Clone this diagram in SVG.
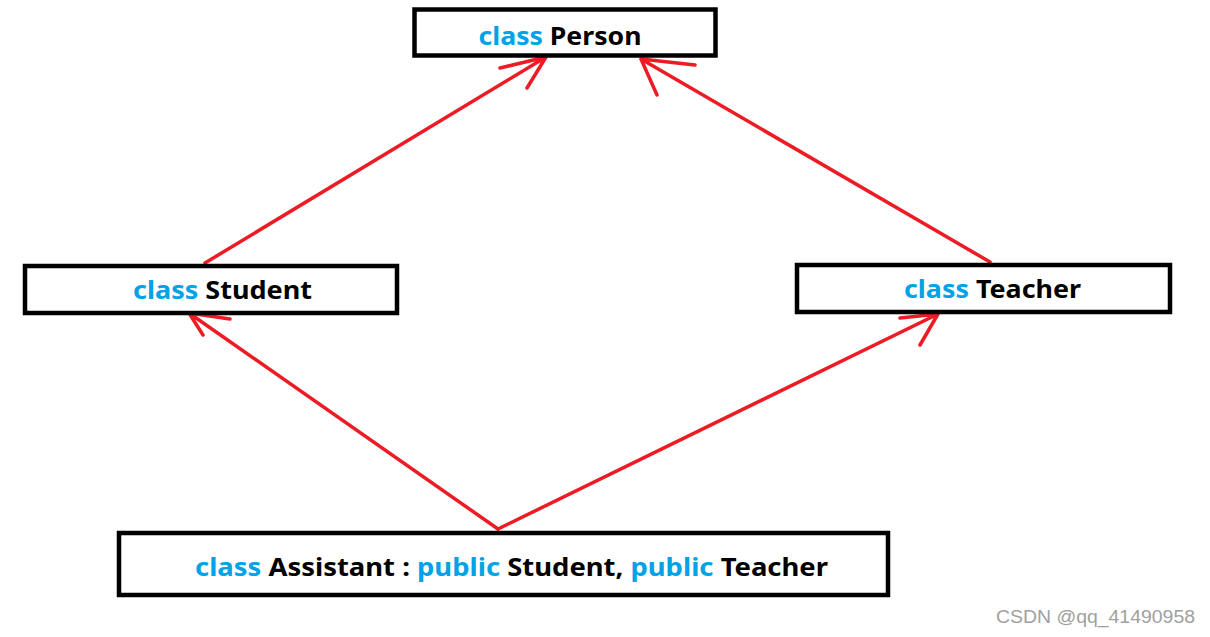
<svg xmlns="http://www.w3.org/2000/svg" width="1210" height="637" viewBox="0 0 1210 637">
<style>
.box{fill:#fff;stroke:#000;stroke-width:4.5}
.t{font-family:"Noto Sans","Open Sans",sans-serif;font-weight:bold;font-size:25px;fill:#000}
.k{fill:#00a2e8}
.c{fill:none;stroke:#ed1c24;stroke-width:3.5;stroke-linecap:round;stroke-linejoin:round}
.wm{font-family:"Liberation Sans",Arial,sans-serif;font-size:18px;fill:#a0a0a0}
</style>
<rect width="1210" height="637" fill="#fff"/>
<g id="connectors">
<path class="c" d="M205,263 L546,57 M500,68 L546,57 L527,88"/>
<path class="c" d="M990,262 L641,59 M695,65 L641,59 L657,95"/>
<path class="c" d="M498,529 L189,313 M230,319 L189,313 L203,335"/>
<path class="c" d="M498,529 L938,314 M900,318 L938,314 L920,345"/>
</g>
<g id="person">
<rect class="box" x="414.5" y="9.5" width="301" height="46"/>
<text class="t" x="560" y="45" text-anchor="middle" textLength="163" lengthAdjust="spacingAndGlyphs"><tspan class="k">class</tspan> Person</text>
</g>
<g id="student">
<rect class="box" x="25" y="266" width="372" height="47"/>
<text class="t" x="222.5" y="299" text-anchor="middle" textLength="179" lengthAdjust="spacingAndGlyphs"><tspan class="k">class</tspan> Student</text>
</g>
<g id="teacher">
<rect class="box" x="797" y="265" width="373" height="47"/>
<text class="t" x="992.5" y="298" text-anchor="middle" textLength="177" lengthAdjust="spacingAndGlyphs"><tspan class="k">class</tspan> Teacher</text>
</g>
<g id="assistant">
<rect class="box" x="119" y="533" width="769" height="62"/>
<text class="t" x="511.5" y="576" text-anchor="middle" textLength="633" lengthAdjust="spacingAndGlyphs"><tspan class="k">class</tspan> Assistant : <tspan class="k">public</tspan> Student, <tspan class="k">public</tspan> Teacher</text>
</g>
<text class="wm" x="996" y="623" textLength="199" lengthAdjust="spacingAndGlyphs">CSDN @qq_41490958</text>
</svg>
